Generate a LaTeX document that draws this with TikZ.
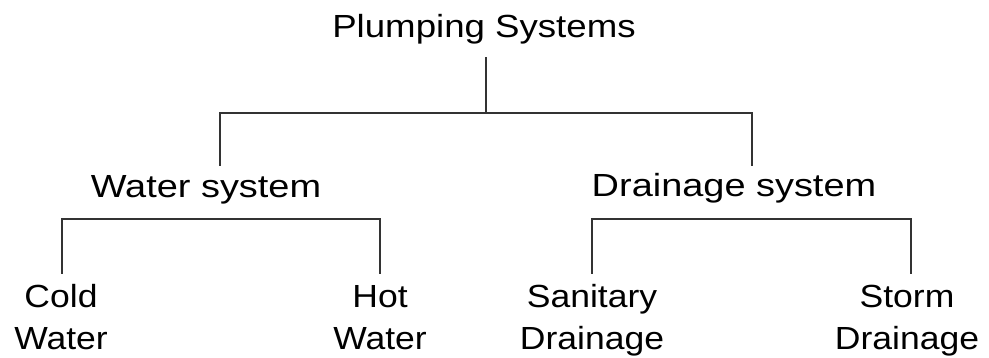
\documentclass[tikz,border=0pt]{standalone}
\usepackage{fontspec}
\newfontfamily\treefont[FakeStretch=1.11]{Liberation Sans}
\newfontfamily\midfont[FakeStretch=1.185]{Liberation Sans}
\newfontfamily\topfont[FakeStretch=1.145]{Liberation Sans}
\usetikzlibrary{calc}
\begin{document}
\begin{tikzpicture}[x=1pt,y=-1pt,
  lbl/.style={inner sep=0pt, anchor=base, align=center,
              font={\treefont\fontsize{32}{43}\selectfont}},
  midlbl/.style={lbl, font={\midfont\fontsize{32}{43}\selectfont}},
  toplbl/.style={lbl, font={\topfont\fontsize{32}{43}\selectfont}},
  link/.style={line width=1.6pt, draw=black!80, line cap=rect}]
\useasboundingbox (0,0) rectangle (989,358);

% labels (two-line labels are placed by the baseline of their last line)
\node[toplbl] (root)  at (484,38)  {Plumping Systems};
\node[midlbl] (water) at (206,198) {Water system};
\node[midlbl] (drain) at (734,197) {Drainage system};
\node[lbl]    (cold)  at (61,350)  {Cold\\Water};
\node[lbl]    (hot)   at (380,350) {Hot\\Water};
\node[lbl]    (sanit) at (592,350) {Sanitary\\Drainage};
\node[lbl]    (storm) at (907,350) {Storm\\Drainage};

% connector ends
\coordinate (root-stem)  at (486,58);
\coordinate (root-join)  at (486,113);
\coordinate (water-top)  at (220,165);
\coordinate (drain-top)  at (752,165);
\coordinate (water-join) at (221,219);
\coordinate (drain-join) at (751,219);
\coordinate (cold-top)   at (62,273);
\coordinate (hot-top)    at (380,273);
\coordinate (sanit-top)  at (592,273);
\coordinate (storm-top)  at (911,273);

% tree branches
\draw[link] (root-stem) -- (root-join);
\draw[link] (water-top) |- (root-join) -| (drain-top);
\draw[link] (cold-top) |- (water-join) -| (hot-top);
\draw[link] (sanit-top) |- (drain-join) -| (storm-top);
\end{tikzpicture}
\end{document}
